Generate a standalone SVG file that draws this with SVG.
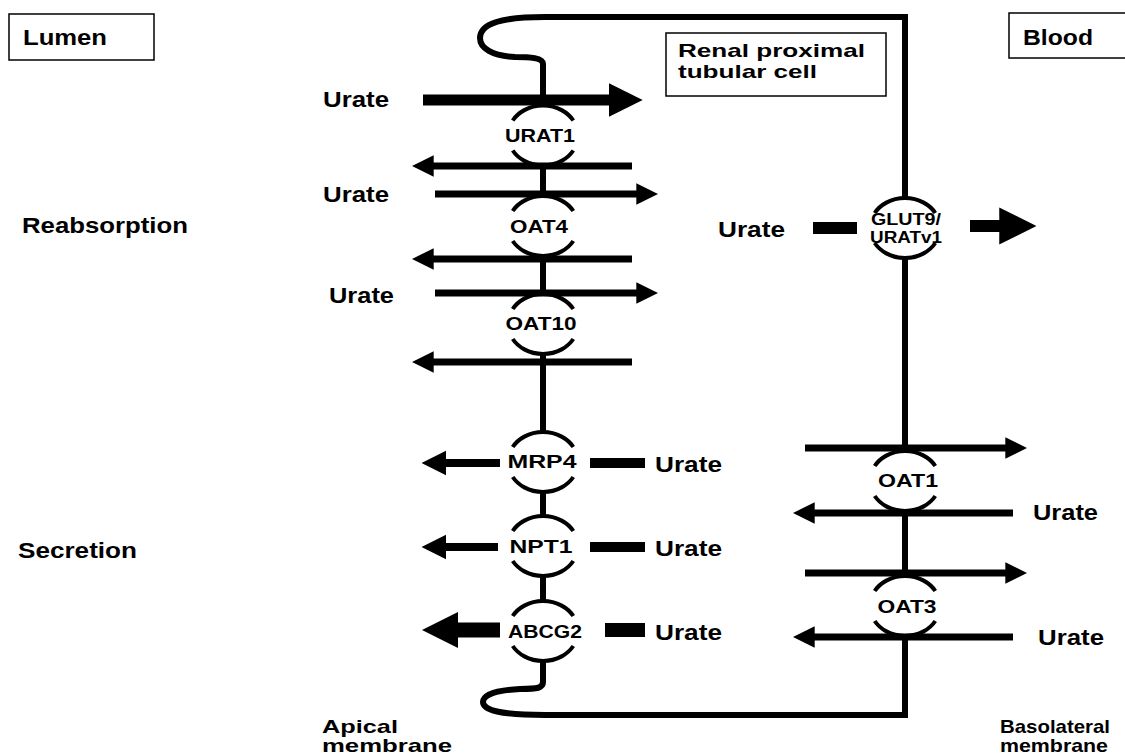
<svg xmlns="http://www.w3.org/2000/svg" xmlns:xlink="http://www.w3.org/1999/xlink" width="1125" height="755" viewBox="0 0 1125 755">
<style>
text{font-family:"Liberation Sans",Arial,Helvetica,sans-serif;font-weight:bold;fill:#000}
.lbl{font-size:22px}
.two{font-size:19px}
.tp{font-size:18px;text-anchor:middle}
.sm{font-size:16px;text-anchor:middle}
.box{fill:#fff;stroke:#000;stroke-width:1.5}
.mem{fill:none;stroke:#000;stroke-width:6}
.arc{fill:none;stroke:#000;stroke-width:4}
.hole{fill:#fff;stroke:none}
.ar{stroke:#000;fill:none}
</style>
<defs>
<marker id="ah" viewBox="0 0 10 10" refX="1" refY="5" markerWidth="3.1" markerHeight="3.2" markerUnits="strokeWidth" orient="auto">
<path d="M0,0 L10,5 L0,10 Z" fill="#000"/>
</marker>
<marker id="ahb" viewBox="0 0 10 10" refX="1" refY="5" markerWidth="2.4" markerHeight="2.5" markerUnits="strokeWidth" orient="auto">
<path d="M0,0 L10,5 L0,10 Z" fill="#000"/>
</marker>
<g id="circ">
<ellipse class="hole" cx="0" cy="0" rx="35" ry="30"/>
<path class="arc" d="M-30.3,-15 A35,30 0 0 1 30.3,-15"/>
<path class="arc" d="M-30.3,15 A35,30 0 0 0 30.3,15"/>
</g>
</defs>
<rect width="1125" height="755" fill="#fff"/>

<g id="labels">
<rect class="box" x="9" y="14" width="145" height="46"/>
<text class="lbl" x="23" y="45" textLength="84" lengthAdjust="spacingAndGlyphs">Lumen</text>
<rect class="box" x="1009" y="13" width="125" height="45"/>
<text class="lbl" x="1023" y="45" textLength="70" lengthAdjust="spacingAndGlyphs">Blood</text>
<text class="lbl" x="22" y="233" textLength="166" lengthAdjust="spacingAndGlyphs">Reabsorption</text>
<text class="lbl" x="18" y="558" textLength="119" lengthAdjust="spacingAndGlyphs">Secretion</text>
<text class="two" x="322" y="733" textLength="76" lengthAdjust="spacingAndGlyphs">Apical</text>
<text class="two" x="322" y="752" textLength="130" lengthAdjust="spacingAndGlyphs">membrane</text>
<text class="two" x="1000" y="733" textLength="110" lengthAdjust="spacingAndGlyphs">Basolateral</text>
<text class="two" x="1000" y="752" textLength="108" lengthAdjust="spacingAndGlyphs">membrane</text>
<text class="lbl" x="323" y="107" textLength="66" lengthAdjust="spacingAndGlyphs">Urate</text>
<text class="lbl" x="323" y="202" textLength="66" lengthAdjust="spacingAndGlyphs">Urate</text>
<text class="lbl" x="329" y="303" textLength="65" lengthAdjust="spacingAndGlyphs">Urate</text>
<text class="lbl" x="718" y="237" textLength="67" lengthAdjust="spacingAndGlyphs">Urate</text>
<text class="lbl" x="655" y="472" textLength="67" lengthAdjust="spacingAndGlyphs">Urate</text>
<text class="lbl" x="655" y="556" textLength="67" lengthAdjust="spacingAndGlyphs">Urate</text>
<text class="lbl" x="655" y="640" textLength="67" lengthAdjust="spacingAndGlyphs">Urate</text>
<text class="lbl" x="1033" y="520" textLength="65" lengthAdjust="spacingAndGlyphs">Urate</text>
<text class="lbl" x="1038" y="645" textLength="66" lengthAdjust="spacingAndGlyphs">Urate</text>
</g>

<g id="membrane">
<path class="mem" d="M543,664 V682 C543,688 538,689 520,689 C498,690 483,694 483,702 C483,710 500,715 545,715 H905 V17 H545 C500,17 480,24 480,38 C480,48 492,56 515,57 C530,57 543,58 543,64 V664"/>
</g>

<g id="cell">
<rect class="box" x="666" y="33" width="220" height="63"/>
<text class="two" x="678" y="57" textLength="187" lengthAdjust="spacingAndGlyphs">Renal proximal</text>
<text class="two" x="678" y="78" textLength="139" lengthAdjust="spacingAndGlyphs">tubular cell</text>
</g>

<g id="URAT1"><use xlink:href="#circ" x="543" y="135.5"/><text class="tp" x="540" y="142" textLength="70" lengthAdjust="spacingAndGlyphs">URAT1</text></g>
<g id="OAT4"><use xlink:href="#circ" x="543" y="226"/><text class="tp" x="539" y="233" textLength="58" lengthAdjust="spacingAndGlyphs">OAT4</text></g>
<g id="OAT10"><use xlink:href="#circ" x="543" y="324"/><text class="tp" x="541" y="330" textLength="71" lengthAdjust="spacingAndGlyphs">OAT10</text></g>
<g id="MRP4"><use xlink:href="#circ" x="543" y="462"/><text class="tp" x="542" y="468" textLength="69" lengthAdjust="spacingAndGlyphs">MRP4</text></g>
<g id="NPT1"><use xlink:href="#circ" x="543" y="546"/><text class="tp" x="541" y="553" textLength="63" lengthAdjust="spacingAndGlyphs">NPT1</text></g>
<g id="ABCG2"><use xlink:href="#circ" x="543" y="631"/><text class="tp" x="545" y="638" textLength="74" lengthAdjust="spacingAndGlyphs">ABCG2</text></g>
<g id="GLUT9"><use xlink:href="#circ" x="905" y="228"/><text class="sm" x="906" y="225" textLength="70" lengthAdjust="spacingAndGlyphs">GLUT9/</text><text class="sm" x="906" y="243" textLength="72" lengthAdjust="spacingAndGlyphs">URATv1</text></g>
<g id="OAT1"><use xlink:href="#circ" x="905" y="481"/><text class="tp" x="908" y="487" textLength="60" lengthAdjust="spacingAndGlyphs">OAT1</text></g>
<g id="OAT3"><use xlink:href="#circ" x="905" y="606"/><text class="tp" x="907" y="613" textLength="59" lengthAdjust="spacingAndGlyphs">OAT3</text></g>

<g id="connectors">
<line class="ar" x1="423" y1="100" x2="612" y2="100" stroke-width="11" marker-end="url(#ah)"/>
<line class="ar" x1="632" y1="166" x2="431.5" y2="166" stroke-width="7" marker-end="url(#ah)"/>
<line class="ar" x1="435" y1="194" x2="638.5" y2="194" stroke-width="7" marker-end="url(#ah)"/>
<line class="ar" x1="632" y1="259" x2="431.5" y2="259" stroke-width="7" marker-end="url(#ah)"/>
<line class="ar" x1="435" y1="293" x2="638.5" y2="293" stroke-width="7" marker-end="url(#ah)"/>
<line class="ar" x1="632" y1="362" x2="431.5" y2="362" stroke-width="7" marker-end="url(#ah)"/>
<line class="ar" x1="500" y1="463" x2="444" y2="463" stroke-width="8" marker-end="url(#ah)"/>
<line class="ar" x1="590" y1="463" x2="645" y2="463" stroke-width="10"/>
<line class="ar" x1="498" y1="547" x2="444" y2="547" stroke-width="8" marker-end="url(#ah)"/>
<line class="ar" x1="590" y1="547" x2="645" y2="547" stroke-width="10"/>
<line class="ar" x1="500" y1="630" x2="454.4" y2="630" stroke-width="15" marker-end="url(#ahb)"/>
<line class="ar" x1="605" y1="630" x2="645" y2="630" stroke-width="14"/>
<line class="ar" x1="813" y1="228" x2="857" y2="228" stroke-width="12"/>
<line class="ar" x1="970" y1="226" x2="1003" y2="226" stroke-width="12" marker-end="url(#ah)"/>
<line class="ar" x1="805" y1="448" x2="1007.5" y2="448" stroke-width="7" marker-end="url(#ah)"/>
<line class="ar" x1="1013" y1="513" x2="812.5" y2="513" stroke-width="7" marker-end="url(#ah)"/>
<line class="ar" x1="805" y1="573" x2="1007.5" y2="573" stroke-width="7" marker-end="url(#ah)"/>
<line class="ar" x1="1013" y1="637" x2="812.5" y2="637" stroke-width="7" marker-end="url(#ah)"/>
</g>
</svg>
